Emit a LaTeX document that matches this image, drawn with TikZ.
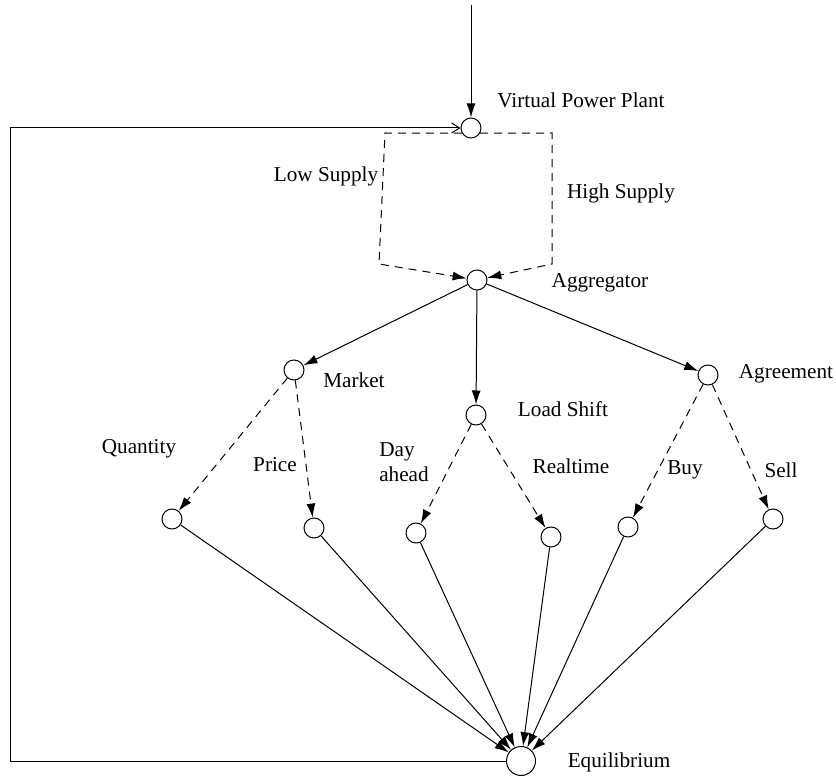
\documentclass[tikz,border=0pt]{standalone}
\usepackage{fontspec}
\setmainfont{Liberation Serif}
\usetikzlibrary{arrows.meta, positioning}
\tikzset{
  every picture/.style={line width=0.5pt},
  vertex/.style={draw, circle, minimum size=10pt, inner sep=0pt},
  arrow/.style={-{Latex[length=7pt, width=4.5pt]}},
  dasharrow/.style={arrow, dash pattern=on 4pt off 3pt},
  back/.style={-{Straight Barb[length=4pt, width=5pt]}},
  lbl/.style={font=\fontsize{10.6}{12.4}\selectfont, align=left},
}
\begin{document}
\begin{tikzpicture}[x=0.5pt, y=-0.5pt]
  \useasboundingbox (0,0) rectangle (836,780);
  % nodes of the tree
  \node[vertex] (vpp) at (471,128) {};
  \node[vertex] (agg) at (477,280) {};
  \node[vertex] (market) at (294,370) {};
  \node[vertex] (shift) at (476,415) {};
  \node[vertex] (agree) at (708,375) {};
  \node[vertex] (qty) at (172,519) {};
  \node[vertex] (price) at (314,528) {};
  \node[vertex] (dayah) at (416,533) {};
  \node[vertex] (rtime) at (551,537) {};
  \node[vertex] (buy) at (628,527) {};
  \node[vertex] (sell) at (773,519) {};
  \node[vertex, minimum size=14.5pt] (eq) at (521,761) {};
  % labels
  \node[lbl] (vppl) at (581,100) {Virtual Power Plant};
  \node[lbl] (lowl) at (326,176) {Low Supply};
  \node[lbl] (highl) at (621,193) {High Supply};
  \node[lbl] (aggl) at (600,283) {Aggregator};
  \node[lbl] (marketl) at (354,380) {Market};
  \node[lbl] (shiftl) at (563,409) {Load Shift};
  \node[lbl] (agreel) at (786,374) {Agreement};
  \node[lbl] (qtyl) at (139,449) {Quantity};
  \node[lbl] (pricel) at (275,465) {Price};
  \node[lbl] (dayahl) at (404,462) {Day\\ahead};
  \node[lbl] (rtimel) at (571,466) {Realtime};
  \node[lbl] (buyl) at (685,470) {Buy};
  \node[lbl] (selll) at (781,470) {Sell};
  \node[lbl] (eql) at (619,762) {Equilibrium};
  % input and feedback loop
  \coordinate (input) at (471,5);
  \coordinate (loop) at (10,761);
  \draw[arrow] (input) -- (vpp);
  \draw[back] (eq) -- (loop) |- (vpp);
  % supply branches
  \coordinate (lowtop) at (385,133);
  \coordinate (lowbot) at (379,264);
  \coordinate (hightop) at (552,133);
  \coordinate (highbot) at (552,264);
  \draw[dasharrow] (vpp.210) -- (lowtop) -- (lowbot) -- (agg);
  \draw[dasharrow] (vpp.330) -- (hightop) -- (highbot) -- (agg);
  % aggregator choices
  \draw[arrow] (agg) -- (market);
  \draw[arrow] (agg) -- (shift);
  \draw[arrow] (agg) -- (agree);
  \draw[dasharrow] (market) -- (qty);
  \draw[dasharrow] (market) -- (price);
  \draw[dasharrow] (shift) -- (dayah);
  \draw[dasharrow] (shift) -- (rtime);
  \draw[dasharrow] (agree) -- (buy);
  \draw[dasharrow] (agree) -- (sell);
  % everything ends in equilibrium
  \foreach \n in {qty, price, dayah, rtime, buy, sell}
    \draw[arrow] (\n) -- (eq);
\end{tikzpicture}
\end{document}
